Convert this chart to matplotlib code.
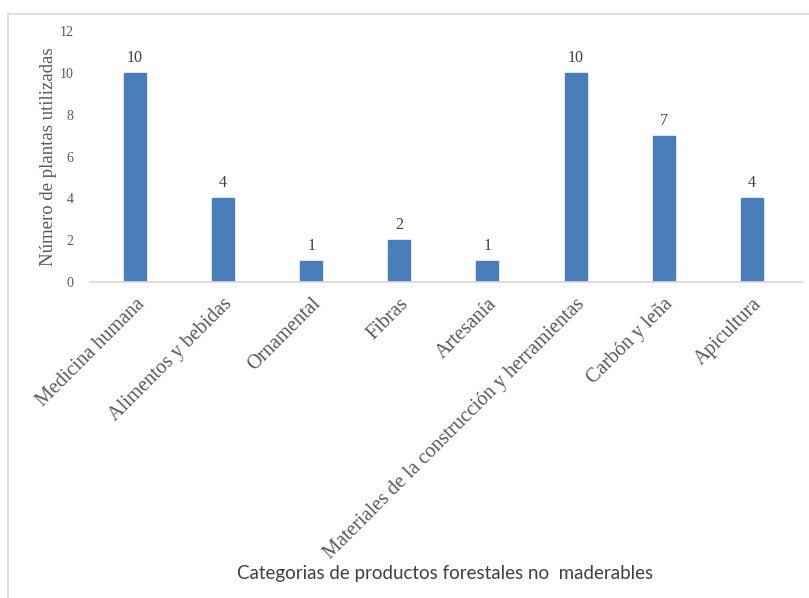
import matplotlib
matplotlib.use("Agg")
import matplotlib.pyplot as plt
from matplotlib.patches import Rectangle

categories = ["Medicina humana", "Alimentos y bebidas", "Ornamental", "Fibras",
              "Artesanía", "Materiales de la construcción y herramientas",
              "Carbón y leña", "Apicultura"]
values = [10, 4, 1, 2, 1, 10, 7, 4]
yticks = [0, 2, 4, 6, 8, 10, 12]

fig = plt.figure(figsize=(8.09, 5.98), dpi=100)
ax = fig.add_axes([90/809, 316/598, 713/809, (282-31)/598])

x = list(range(len(categories)))
bars = ax.bar(x, values, width=0.25, color="#4a7ebb", edgecolor="#4a7ebb")
ax.set_xlim(-0.51, len(categories) - 0.42)
ax.set_ylim(0, 12)
ax.set_yticks(yticks)
ax.set_yticklabels([str(t) for t in yticks], family="Liberation Serif", fontsize=10, color="#595959")
ax.set_xticks(x)
ax.set_xticklabels(categories, rotation=45, ha="right", rotation_mode="anchor",
                   family="Liberation Serif", fontsize=14.5, color="#595959")
ax.tick_params(axis="both", length=0)
ax.tick_params(axis="x", pad=9)
ax.tick_params(axis="y", pad=12)
for s in ["top", "right", "left"]:
    ax.spines[s].set_visible(False)
ax.spines["bottom"].set_color("#d9d9d9")
ax.spines["bottom"].set_linewidth(1.2)

for xi, v in zip(x, values):
    ax.annotate(str(v), (xi, v), xytext=(0, 5), textcoords="offset points",
                ha="center", va="bottom", family="Liberation Serif", fontsize=11.5, color="#404040")

ax.set_ylabel("Número de plantas utilizadas", family="Liberation Serif", fontsize=13.5,
              color="#595959", labelpad=2)
fig.text(445/809, 1 - 573/598, "Categorias de productos forestales no  maderables",
         ha="center", va="center", family="Lato", fontsize=13.5, color="#404040")

fig.patches.append(Rectangle((8/809, -0.1), 1.2, 1 - 14/598 + 0.1, transform=fig.transFigure,
                             fill=False, edgecolor="#d9d9d9", linewidth=1.2))

fig.savefig("out.png", dpi=100)
